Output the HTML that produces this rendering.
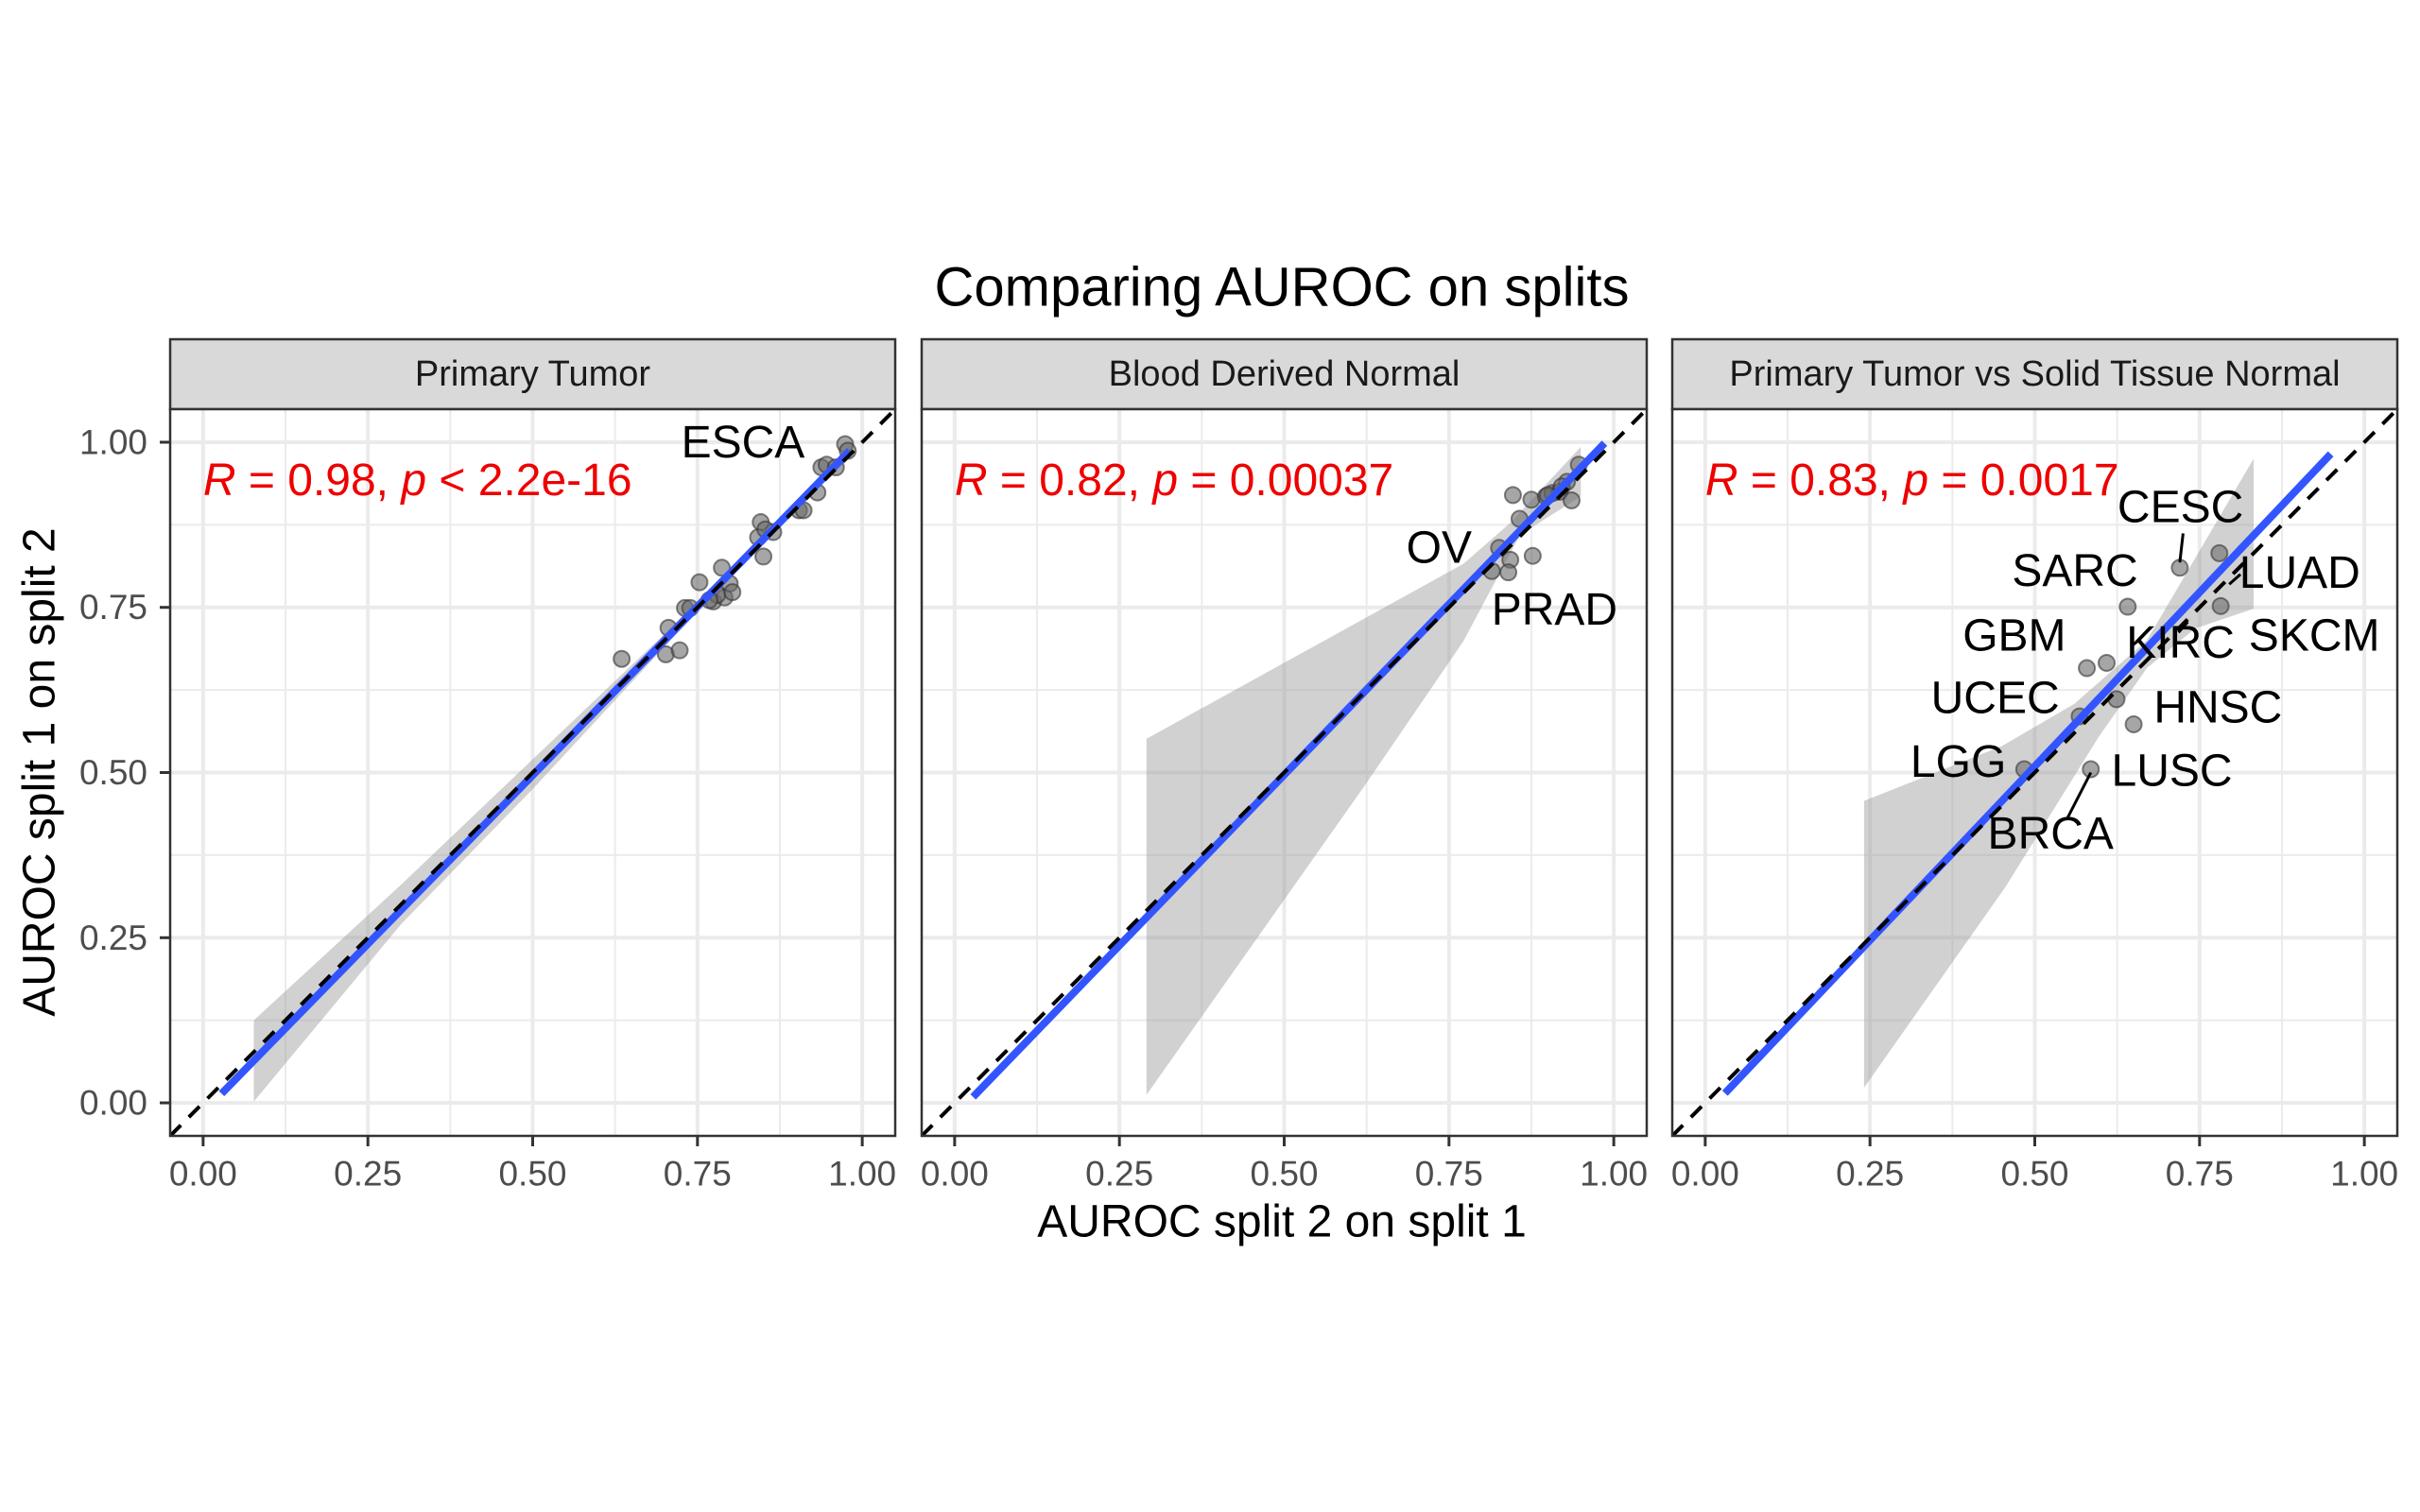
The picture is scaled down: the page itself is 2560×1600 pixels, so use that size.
<!DOCTYPE html>
<html><head><meta charset="utf-8"><style>
html,body{margin:0;padding:0;background:#fff;}
svg{display:block;font-family:"Liberation Sans",Arial,sans-serif;}
</style></head><body>
<svg id="chart" width="2560" height="1600" viewBox="0 0 2560 1600" xmlns="http://www.w3.org/2000/svg">
<rect width="2560" height="1600" fill="#fff"/>
<text x="1356" y="304" font-size="58" text-anchor="middle" dominant-baseline="central" fill="#000">Comparing AUROC on splits</text>
<text x="1356" y="1293" font-size="48" text-anchor="middle" dominant-baseline="central" fill="#000">AUROC split 2 on split 1</text>
<text x="0" y="0" font-size="48" text-anchor="middle" dominant-baseline="central" fill="#000" transform="translate(42,817) rotate(-90)">AUROC split 1 on split 2</text>
<g id="panels"></g>
</svg>
<script>
const panelTitles = ["Primary Tumor", "Blood Derived Normal", "Primary Tumor vs Solid Tissue Normal"];
const statR = ["0.98", "0.82", "0.83"];
const statOp = ["<", "=", "="];
const statP = ["2.2e-16", "0.00037", "0.0017"];
const tickValues = [0, 0.25, 0.5, 0.75, 1];
const tickLabels = ["0.00", "0.25", "0.50", "0.75", "1.00"];
const minorValues = [0.125, 0.375, 0.625, 0.875];

const p1x = [0.635,0.706,0.702,0.723,0.731,0.739,0.753,0.774,0.787,0.791,0.799,0.780,0.768,0.803,0.846,0.842,0.850,0.865,0.853,0.904,0.911,0.932,0.938,0.946,0.960,0.974,0.978];
const p1y = [0.672,0.719,0.679,0.685,0.749,0.749,0.788,0.759,0.810,0.765,0.786,0.769,0.761,0.773,0.879,0.856,0.827,0.864,0.868,0.897,0.897,0.924,0.962,0.966,0.962,0.997,0.987];
const p2x = [0.847,0.875,0.857,0.897,0.907,0.918,0.929,0.947,0.936,0.826,0.843,0.840,0.815,0.877,0.921,0.900];
const p2y = [0.920,0.913,0.884,0.918,0.923,0.925,0.940,0.966,0.912,0.840,0.822,0.803,0.805,0.828,0.933,0.920];
const p3x = [0.720,0.780,0.782,0.641,0.579,0.609,0.624,0.650,0.484,0.585,0.568];
const p3y = [0.810,0.832,0.752,0.751,0.658,0.666,0.611,0.573,0.505,0.505,0.585];

const fitSlope = [1.021, 1.033, 1.053];
const fitIntercept = [-0.0146, -0.020, -0.017];
const fitXStart = [0.028, 0.028, 0.030];
const fitXEnd = [0.981, 0.986, 0.949];

const band1UpX = [0.077,0.3,0.5,0.7,0.85,0.98];
const band1UpY = [0.125,0.33,0.52,0.71,0.86,0.995];
const band1LoX = [0.077,0.3,0.5,0.7,0.85,0.98];
const band1LoY = [0.002,0.27,0.475,0.69,0.85,0.975];
const band2UpX = [0.291,0.772,0.843,0.95];
const band2UpY = [0.551,0.816,0.878,0.993];
const band2LoX = [0.291,0.622,0.772,0.858,0.95];
const band2LoY = [0.012,0.48,0.699,0.86,0.918];
const band3UpX = [0.241,0.45,0.56,0.67,0.832];
const band3UpY = [0.457,0.54,0.604,0.70,0.975];
const band3LoX = [0.241,0.455,0.597,0.67,0.743,0.832];
const band3LoY = [0.023,0.326,0.554,0.658,0.718,0.748];

const labels1 = ["ESCA"]; const lab1x = [0.819]; const lab1y = [0.999];
const labels2 = ["OV","PRAD"]; const lab2x = [0.735,0.91]; const lab2y = [0.84,0.746];
const labels3 = ["CESC","SARC","LUAD","GBM","KIRC","SKCM","UCEC","HNSC","LGG","LUSC","BRCA"];
const lab3x = [0.721,0.561,0.902,0.469,0.721,0.924,0.44,0.778,0.384,0.708,0.524];
const lab3y = [0.901,0.805,0.802,0.707,0.696,0.707,0.612,0.598,0.516,0.502,0.407];
const seg3x1 = [0.725,0.550,0.812,0.732]; const seg3y1 = [0.862,0.432,0.800,0.728];
const seg3x2 = [0.720,0.585,0.795,0.718]; const seg3y2 = [0.818,0.500,0.785,0.712];
</script>
<script>
const NS = "http://www.w3.org/2000/svg";
const root = document.getElementById('panels');
const panelLeft = [180, 975, 1769], panelW = 767, panelTop = 433, panelH = 769;
const stripTop = 359;
const dMin = -0.05, dMax = 1.05;
function mk(tag, attrs, parent){ const e = document.createElementNS(NS, tag); for (const k in attrs) e.setAttribute(k, attrs[k]); (parent||root).appendChild(e); return e; }
function sx(i, v){ return panelLeft[i] + (v - dMin) / (dMax - dMin) * panelW; }
function sy(v){ return panelTop + panelH - (v - dMin) / (dMax - dMin) * panelH; }

const pts = [[p1x,p1y],[p2x,p2y],[p3x,p3y]];
const bands = [[band1UpX,band1UpY,band1LoX,band1LoY],[band2UpX,band2UpY,band2LoX,band2LoY],[band3UpX,band3UpY,band3LoX,band3LoY]];
const labs = [[labels1,lab1x,lab1y],[labels2,lab2x,lab2y],[labels3,lab3x,lab3y]];

for (let i = 0; i < 3; i++) {
  const L = panelLeft[i];
  const g = mk('g', {});
  
  
  const cp = mk('clipPath', {id: 'clip' + i}, g);
  mk('rect', {x: L, y: panelTop, width: panelW, height: panelH}, cp);
  const strip = mk('rect', {x: L, y: stripTop, width: panelW, height: panelTop - stripTop, fill: '#D9D9D9', stroke: '#333', 'stroke-width': 2.5}, g);
  
  
  const st = mk('text', {x: L + panelW/2, y: (stripTop + panelTop)/2, 'font-size': 38, 'text-anchor': 'middle', 'dominant-baseline': 'central', fill: '#1A1A1A'}, g);
  st.textContent = panelTitles[i];
  
  
  mk('rect', {x: L, y: panelTop, width: panelW, height: panelH, fill: '#fff'}, g);
  for (const v of minorValues) {
    mk('line', {x1: sx(i,v), x2: sx(i,v), y1: panelTop, y2: panelTop+panelH, stroke: '#EBEBEB', 'stroke-width': 2}, g);
    mk('line', {x1: L, x2: L+panelW, y1: sy(v), y2: sy(v), stroke: '#EBEBEB', 'stroke-width': 2}, g);
  }
  for (const v of tickValues) {
    const gx = mk('line', {x1: sx(i,v), x2: sx(i,v), y1: panelTop, y2: panelTop+panelH, stroke: '#EBEBEB', 'stroke-width': 4}, g);
    
    
    const gy = mk('line', {x1: L, x2: L+panelW, y1: sy(v), y2: sy(v), stroke: '#EBEBEB', 'stroke-width': 4}, g);
    
    
  }
  const inner = mk('g', {'clip-path': 'url(#clip' + i + ')'}, g);
  const b = bands[i];
  let d = '';
  for (let k = 0; k < b[0].length; k++) d += (k ? 'L' : 'M') + sx(i, b[0][k]) + ',' + sy(b[1][k]);
  for (let k = b[2].length - 1; k >= 0; k--) d += 'L' + sx(i, b[2][k]) + ',' + sy(b[3][k]);
  const band = mk('path', {d: d + 'Z', fill: '#999', 'fill-opacity': 0.45}, inner);
  
  
  for (let k = 0; k < pts[i][0].length; k++) {
    const c = mk('circle', {cx: sx(i, pts[i][0][k]), cy: sy(pts[i][1][k]), r: 8.5, fill: '#6b6b6b', 'fill-opacity': 0.6, stroke: '#333', 'stroke-opacity': 0.6, 'stroke-width': 2}, inner);
    
    
  }
  const fx1 = fitXStart[i], fx2 = fitXEnd[i];
  const fit = mk('line', {x1: sx(i,fx1), y1: sy(fitSlope[i]*fx1 + fitIntercept[i]), x2: sx(i,fx2), y2: sy(fitSlope[i]*fx2 + fitIntercept[i]), stroke: '#3355FF', 'stroke-width': 8}, inner);
  
  
  const idl = mk('line', {x1: sx(i,dMin), y1: sy(dMin), x2: sx(i,dMax), y2: sy(dMax), stroke: '#000', 'stroke-width': 4, 'stroke-dasharray': '16 12'}, inner);
  
  
  if (i === 2) {
    for (let k = 0; k < seg3x1.length; k++) {
      const s = mk('line', {x1: sx(i,seg3x1[k]), y1: sy(seg3y1[k]), x2: sx(i,seg3x2[k]), y2: sy(seg3y2[k]), stroke: '#000', 'stroke-width': 3}, inner);
      
      
    }
  }
  const lb = labs[i];
  for (let k = 0; k < lb[0].length; k++) {
    const t = mk('text', {x: sx(i, lb[1][k]), y: sy(lb[2][k]), 'font-size': 48, 'text-anchor': 'middle', 'dominant-baseline': 'central', fill: '#000'}, g);
    t.textContent = lb[0][k];
    
    
  }
  const stt = mk('text', {x: sx(i, 0), y: sy(0.92), 'font-size': 48, fill: '#EE0000'}, g);
  
  
  const ta = mk('tspan', {'font-style': 'italic'}, stt); ta.textContent = 'R';
  const tb = mk('tspan', {}, stt); tb.textContent = ' = ' + statR[i] + ', ';
  const tc = mk('tspan', {'font-style': 'italic'}, stt); tc.textContent = 'p';
  const td = mk('tspan', {}, stt); td.textContent = ' ' + statOp[i] + ' ' + statP[i];
  mk('rect', {x: L, y: panelTop, width: panelW, height: panelH, fill: 'none', stroke: '#333', 'stroke-width': 2.5}, g);
  for (let k = 0; k < tickValues.length; k++) {
    const x = sx(i, tickValues[k]);
    mk('line', {x1: x, x2: x, y1: panelTop+panelH, y2: panelTop+panelH+11, stroke: '#333', 'stroke-width': 3}, g);
    const tl = mk('text', {x: x, y: 1242, 'font-size': 37, 'text-anchor': 'middle', 'dominant-baseline': 'central', fill: '#4D4D4D'}, g);
    tl.textContent = tickLabels[k];
    
    
  }
  if (i === 0) {
    for (let k = 0; k < tickValues.length; k++) {
      const y = sy(tickValues[k]);
      mk('line', {x1: L-11, x2: L, y1: y, y2: y, stroke: '#333', 'stroke-width': 3}, g);
      const tl = mk('text', {x: 156, y: y, 'font-size': 37, 'text-anchor': 'end', 'dominant-baseline': 'central', fill: '#4D4D4D'}, g);
      tl.textContent = tickLabels[k];
      
      
    }
  }
}
</script>
</body></html>
